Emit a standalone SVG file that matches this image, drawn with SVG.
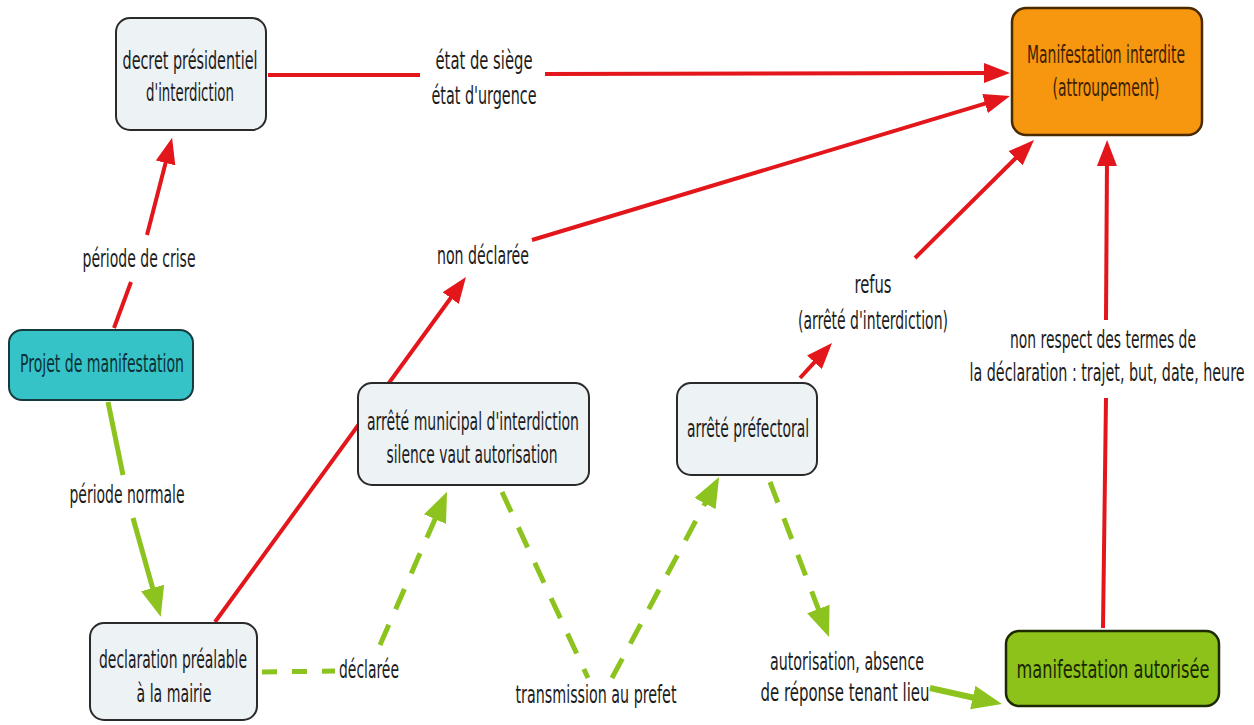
<svg xmlns="http://www.w3.org/2000/svg" width="1254" height="725" viewBox="0 0 1254 725">
<style>
text{font-family:"DejaVu Sans Condensed","DejaVu Sans",sans-serif;font-size:25px;fill:#1c1c1c;text-anchor:middle;font-stretch:condensed}
.box{fill:#edf2f5;stroke:#2a2a2a;stroke-width:2}
.red{fill:none;stroke:#e3161b;stroke-width:4}
.grn{fill:none;stroke:#8dc31e;stroke-width:5}
.dash{fill:none;stroke:#8dc31e;stroke-width:5;stroke-dasharray:22 17}
</style>
<defs>
<marker id="ar" markerUnits="userSpaceOnUse" markerWidth="26" markerHeight="20" refX="6" refY="10" orient="auto"><path d="M0,0 L26,10 L0,20 z" fill="#e3161b"/></marker>
<marker id="ag" markerUnits="userSpaceOnUse" markerWidth="30" markerHeight="24" refX="10" refY="12" orient="auto"><path d="M0,0 L30,12 L0,24 z" fill="#8dc31e"/></marker>
</defs>
<rect width="1254" height="725" fill="#fff"/>
<g id="connectors">
<path class="red" d="M268,75 L420,75"/>
<path class="red" d="M545,74 L990,73" marker-end="url(#ar)"/>
<path class="red" d="M532,240 L990.8,101.8" marker-end="url(#ar)"/>
<path class="red" d="M215,622 L454.2,293.2" marker-end="url(#ar)"/>
<path class="red" d="M114,328 L131,282"/>
<path class="red" d="M147,235 L167.1,157.1" marker-end="url(#ar)"/>
<path class="grn" d="M108,402 L123,475"/>
<path class="grn" d="M133,518 L155.3,597.6" marker-end="url(#ag)"/>
<path class="dash" d="M262,672 L335,671" style="stroke-dasharray:15 15"/>
<path class="dash" d="M380,645 L439,510" marker-end="url(#ag)"/>
<path class="dash" d="M502,492 L588,678"/>
<path class="dash" d="M612,678 L709.7,494.7" marker-end="url(#ag)"/>
<path class="red" d="M800,378 L818.5,357.8" marker-end="url(#ar)"/>
<path class="red" d="M915,258 L1019.8,154.1" marker-end="url(#ar)"/>
<path class="dash" d="M770,482 L821.9,618.3" marker-end="url(#ag)"/>
<path class="grn" d="M930,688 L982.5,699.7" style="stroke-width:6" marker-end="url(#ag)"/>
<path class="red" d="M1103,628 L1106,398"/>
<path class="red" d="M1106,320 L1107,160" marker-end="url(#ar)"/>
<text transform="translate(484,69) scale(0.56,1)" textLength="173.2" lengthAdjust="spacingAndGlyphs">état de siège</text>
<text transform="translate(484,104) scale(0.56,1)" textLength="187.5" lengthAdjust="spacingAndGlyphs">état d'urgence</text>
<text transform="translate(483,264) scale(0.56,1)" textLength="164.3" lengthAdjust="spacingAndGlyphs">non déclarée</text>
<text transform="translate(139,267) scale(0.56,1)" textLength="201.8" lengthAdjust="spacingAndGlyphs">période de crise</text>
<text transform="translate(127,503) scale(0.56,1)" textLength="205.4" lengthAdjust="spacingAndGlyphs">période normale</text>
<text transform="translate(369,678) scale(0.56,1)" textLength="107.1" lengthAdjust="spacingAndGlyphs">déclarée</text>
<text transform="translate(596,703) scale(0.56,1)" textLength="287.5" lengthAdjust="spacingAndGlyphs">transmission au prefet</text>
<text transform="translate(873,293) scale(0.56,1)" textLength="66.1" lengthAdjust="spacingAndGlyphs">refus</text>
<text transform="translate(873,329) scale(0.56,1)" textLength="267.9" lengthAdjust="spacingAndGlyphs">(arrêté d'interdiction)</text>
<text transform="translate(1103,348) scale(0.56,1)" textLength="332.1" lengthAdjust="spacingAndGlyphs">non respect des termes de</text>
<text transform="translate(1107,381) scale(0.56,1)" textLength="491.1" lengthAdjust="spacingAndGlyphs">la déclaration : trajet, but, date, heure</text>
<text transform="translate(847,670) scale(0.56,1)" textLength="275" lengthAdjust="spacingAndGlyphs">autorisation, absence</text>
<text transform="translate(845,701) scale(0.56,1)" textLength="301.8" lengthAdjust="spacingAndGlyphs">de réponse tenant lieu</text>
</g>
<g id="decret">
<rect class="box" x="116" y="18" width="150" height="112" rx="14"/>
<text transform="translate(190,69) scale(0.56,1)" textLength="241.1" lengthAdjust="spacingAndGlyphs">decret présidentiel</text>
<text transform="translate(190,101) scale(0.56,1)" textLength="157.1" lengthAdjust="spacingAndGlyphs">d'interdiction</text>
</g>
<g id="interdite">
<rect x="1012" y="8" width="190" height="127" rx="14" fill="#f7960f" stroke="#4a2a00" stroke-width="2.5"/>
<text transform="translate(1106,63) scale(0.56,1)" textLength="282.1" lengthAdjust="spacingAndGlyphs" style="fill:#3b1f00">Manifestation interdite</text>
<text transform="translate(1106,96) scale(0.56,1)" textLength="191.1" lengthAdjust="spacingAndGlyphs" style="fill:#3b1f00">(attroupement)</text>
</g>
<g id="projet">
<rect x="9" y="330" width="184" height="70" rx="13" fill="#35c3c7" stroke="#163b3e" stroke-width="2"/>
<text transform="translate(102,372) scale(0.56,1)" textLength="292.9" lengthAdjust="spacingAndGlyphs" style="fill:#0d3036">Projet de manifestation</text>
</g>
<g id="municipal">
<rect class="box" x="358" y="383" width="231" height="102" rx="14"/>
<text transform="translate(473,430) scale(0.56,1)" textLength="378.6" lengthAdjust="spacingAndGlyphs">arrêté municipal d'interdiction</text>
<text transform="translate(472,463) scale(0.56,1)" textLength="305.4" lengthAdjust="spacingAndGlyphs">silence vaut autorisation</text>
</g>
<g id="prefectoral">
<rect class="box" x="677" y="383" width="140" height="92" rx="14"/>
<text transform="translate(748,437) scale(0.56,1)" textLength="217.9" lengthAdjust="spacingAndGlyphs">arrêté préfectoral</text>
</g>
<g id="declaration">
<rect class="box" x="90" y="623" width="167" height="97" rx="14"/>
<text transform="translate(173,668) scale(0.56,1)" textLength="264.3" lengthAdjust="spacingAndGlyphs">declaration préalable</text>
<text transform="translate(174,702) scale(0.56,1)" textLength="133.9" lengthAdjust="spacingAndGlyphs">à la mairie</text>
</g>
<g id="autorisee">
<rect x="1006" y="631" width="213" height="75" rx="13" fill="#8cc21a" stroke="#1d2a00" stroke-width="2.5"/>
<text transform="translate(1113,678) scale(0.56,1)" textLength="344.6" lengthAdjust="spacingAndGlyphs" style="fill:#1a2600">manifestation autorisée</text>
</g>
</svg>
